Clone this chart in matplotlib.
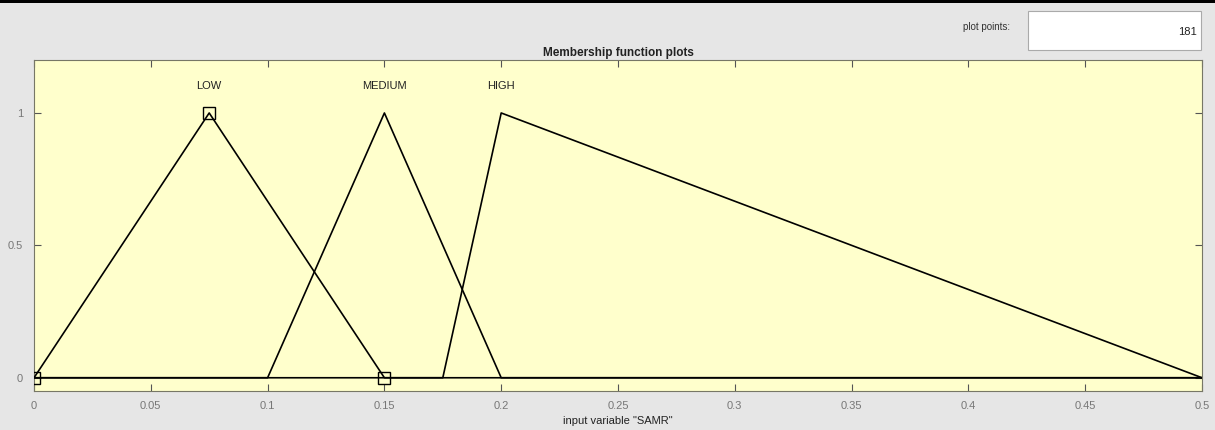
import matplotlib
matplotlib.use("Agg")
import matplotlib.pyplot as plt
from matplotlib.patches import Rectangle
import numpy as np

# Membership functions (triangular): name -> [a, b, c]
mf_names = ["LOW", "MEDIUM", "HIGH"]
mf_params = [[0.0, 0.075, 0.15], [0.1, 0.15, 0.2], [0.175, 0.2, 0.5]]
x_range = [0.0, 0.5]
x_ticks = [0, 0.05, 0.1, 0.15, 0.2, 0.25, 0.3, 0.35, 0.4, 0.45, 0.5]
x_ticklabels = ["0", "0.05", "0.1", "0.15", "0.2", "0.25", "0.3", "0.35", "0.4", "0.45", "0.5"]
y_ticks = [0, 0.5, 1]
y_ticklabels = ["0", "0.5", "1"]
selected = 0
plot_points = 181

W, H = 1215, 430
fig = plt.figure(figsize=(W / 100, H / 100), dpi=100)
fig.patch.set_facecolor("#e6e6e6")
fig.patches.append(Rectangle((0, 1 - 3 / H), 1, 3 / H, transform=fig.transFigure,
                             facecolor="black", edgecolor="none", zorder=0))

ax = fig.add_axes([34 / W, 1 - 391 / H, 1168 / W, 331 / H])
ax.set_facecolor("#ffffcc")
ax.set_xlim(x_range)
ax.set_ylim(-0.05, 1.2)

for i, (name, (a, b, c)) in enumerate(zip(mf_names, mf_params)):
    xs = [x_range[0], a, b, c, x_range[1]]
    ys = [0, 0, 1, 0, 0]
    ax.plot(xs, ys, color="black", lw=1.2, zorder=3)
    ax.text(b, 1.10, name, ha="center", va="center", fontsize=8, color="#222222",
            family="Liberation Sans")
    if i == selected:
        ax.plot([a, b, c], [0, 1, 0], ls="none", marker="s", markersize=8,
                markerfacecolor="none", markeredgecolor="black", markeredgewidth=1.0, zorder=4)

ax.set_xticks(x_ticks)
ax.set_xticklabels(x_ticklabels)
ax.set_yticks(y_ticks)
ax.set_yticklabels(y_ticklabels)
ax.tick_params(direction="in", top=True, right=True, length=5, width=0.8,
               color="#555555", labelsize=8, labelcolor="#777777")
ax.tick_params(axis="x", pad=7)
ax.tick_params(axis="y", pad=8)
for lab in ax.get_xticklabels() + ax.get_yticklabels():
    lab.set_family("Liberation Sans")
for s in ax.spines.values():
    s.set_color("#777766")
    s.set_linewidth(0.8)

ax.set_xlabel('input variable "SAMR"', fontsize=8, color="#222222",
              family="Liberation Sans", labelpad=4)
ax.set_title("Membership function plots", fontsize=8.5, fontweight="bold",
             color="#222222", family="Liberation Sans", pad=3)

# plot points box
fig.patches.append(Rectangle((1028 / W, 1 - 50 / H), 173 / W, 39 / H, transform=fig.transFigure,
                             facecolor="white", edgecolor="#aaaaaa", lw=0.8))
fig.text(1010 / W, 1 - 27 / H, "plot points:", ha="right", va="center", fontsize=7,
         color="#333333", family="Liberation Sans")
fig.text(1197 / W, 1 - 32 / H, str(plot_points), ha="right", va="center", fontsize=8,
         color="#222222", family="Liberation Sans")

fig.savefig("out.png", dpi=100, facecolor=fig.get_facecolor())
